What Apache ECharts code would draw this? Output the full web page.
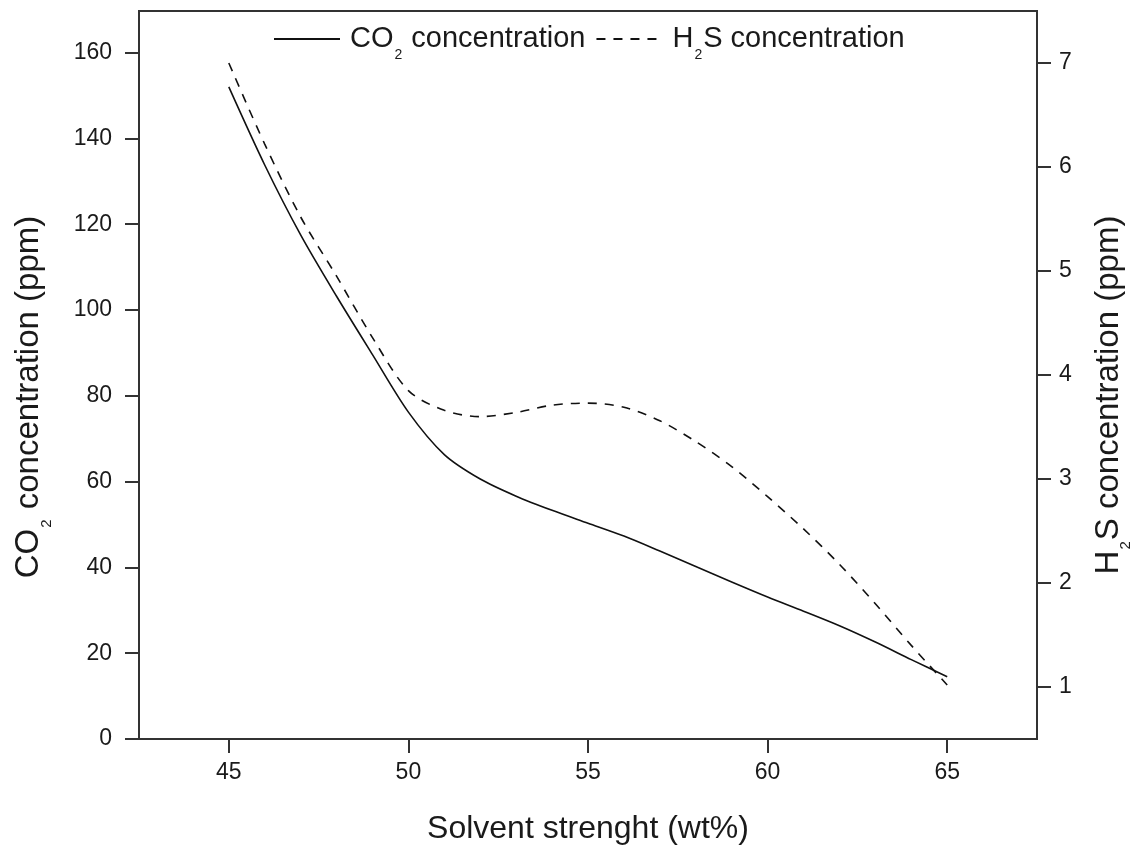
<!DOCTYPE html>
<html>
<head>
<meta charset="utf-8">
<title>CO2 and H2S concentration vs solvent strength</title>
<script src="https://cdn.jsdelivr.net/npm/echarts@6/dist/echarts.min.js"></script>
<style>
  html, body { margin: 0; padding: 0; background: #fff; }
  #chart { width: 1136px; height: 848px; }
</style>
</head>
<body>
<div id="chart"></div>
<script>
// Solvent strength (wt%)
const solventStrength = [45, 46, 47, 48, 49, 50, 51, 52, 53, 54, 55, 56, 57, 58, 59, 60, 61, 62, 63, 64, 65];
// CO2 concentration (ppm), left axis
const co2Concentration = [152, 133.8, 117.5, 103.2, 89.6, 76.2, 66.3, 60.6, 56.6, 53.3, 50.3, 47.3, 43.8, 40.2, 36.6, 33.1, 29.8, 26.4, 22.6, 18.5, 14.5];
// H2S concentration (ppm), right axis
const h2sConcentration = [7.0, 6.22, 5.52, 4.95, 4.36, 3.85, 3.66, 3.60, 3.64, 3.71, 3.73, 3.69, 3.56, 3.36, 3.12, 2.83, 2.52, 2.18, 1.80, 1.40, 1.02];

const xTicks = [45, 50, 55, 60, 65];
const co2Ticks = [0, 20, 40, 60, 80, 100, 120, 140, 160];
const h2sTicks = [1, 2, 3, 4, 5, 6, 7];

const FONT = "'Liberation Sans', Arial, sans-serif";
const INK = '#1a1a1a';
const AXIS = '#333';

const chart = echarts.init(document.getElementById('chart'), null, { renderer: 'canvas' });

// rich styles for names carrying a subscript "2"
function subRich(size, subSize, lh, subPad) {
  return {
    g: { width: 5, lineHeight: lh },
    a: { fontSize: size, fontFamily: FONT, color: INK, lineHeight: lh },
    s: { fontSize: subSize, fontFamily: FONT, color: INK, lineHeight: subSize,
         verticalAlign: 'top', padding: [subPad, 1, 0, 1] }
  };
}

const legendLabels = {
  'CO2 concentration': '{g|}{a|CO}{s|2}{a| concentration}',
  'H2S concentration': '{g|}{a|H}{s|2}{a|S concentration}'
};

const valueAxisCommon = {
  type: 'value',
  splitLine: { show: false },
  axisLine: { show: true, onZero: false, lineStyle: { color: AXIS, width: 2 } },
  nameLocation: 'middle'
};

chart.setOption({
  animation: false,
  backgroundColor: '#fff',
  grid: {
    left: 139, right: 99, top: 11, bottom: 109,
    containLabel: false,
    outerBoundsMode: 'none',
    show: true, borderColor: AXIS, borderWidth: 2, backgroundColor: 'transparent'
  },
  legend: {
    top: 11,
    left: 268,
    itemWidth: 66,
    itemHeight: 14,
    itemGap: 10,
    data: ['CO2 concentration', 'H2S concentration'],
    formatter: name => legendLabels[name],
    itemStyle: { color: 'transparent', borderWidth: 0, opacity: 0 },
    textStyle: { rich: subRich(29, 14, 46, 32) },
    selectedMode: false
  },
  xAxis: {
    type: 'value',
    min: 42.5,
    max: 67.5,
    splitLine: { show: false },
    axisLine: { show: true, onZero: false, lineStyle: { color: AXIS, width: 2 } },
    axisTick: { show: true, inside: false, length: 14, customValues: xTicks, lineStyle: { color: AXIS, width: 2 } },
    axisLabel: { customValues: xTicks, margin: 22, fontSize: 23, fontFamily: FONT, color: INK },
    name: 'Solvent strenght (wt%)',
    nameLocation: 'middle',
    nameGap: 74,
    nameTextStyle: { fontSize: 32, fontFamily: FONT, color: INK }
  },
  yAxis: [
    Object.assign({}, valueAxisCommon, {
      position: 'left',
      min: 0,
      max: 169.7,
      axisTick: { show: true, inside: false, length: 14, customValues: co2Ticks, lineStyle: { color: AXIS, width: 2 } },
      axisLabel: { customValues: co2Ticks, margin: 27, fontSize: 23, fontFamily: FONT, color: INK },
      name: '{a|CO}{s|2}{a| concentration (ppm)}',
      nameGap: 84,
      nameTextStyle: { padding: [0, 44, 0, 0], rich: subRich(33, 15, 52, 36) }
    }),
    Object.assign({}, valueAxisCommon, {
      position: 'right',
      min: 0.5,
      max: 7.5,
      axisTick: { show: true, inside: false, length: 14, customValues: h2sTicks, lineStyle: { color: AXIS, width: 2 } },
      axisLabel: { customValues: h2sTicks, margin: 22, fontSize: 23, fontFamily: FONT, color: INK },
      name: '{a|H}{s|2}{a|S concentration (ppm)}',
      nameGap: 35,
      nameTextStyle: { padding: [0, 40, 0, 0], rich: subRich(33, 15, 52, 36) }
    })
  ],
  series: [
    {
      name: 'CO2 concentration',
      type: 'line',
      yAxisIndex: 0,
      smooth: 0.3,
      symbol: 'none',
      lineStyle: { color: '#111', width: 1.6, type: 'solid' },
      itemStyle: { color: '#111' },
      data: solventStrength.map((x, i) => [x, co2Concentration[i]])
    },
    {
      name: 'H2S concentration',
      type: 'line',
      yAxisIndex: 1,
      smooth: 0.3,
      symbol: 'none',
      lineStyle: { color: '#111', width: 1.6, type: [9, 8] },
      itemStyle: { color: '#111' },
      data: solventStrength.map((x, i) => [x, h2sConcentration[i]])
    }
  ]
});
</script>
</body>
</html>
